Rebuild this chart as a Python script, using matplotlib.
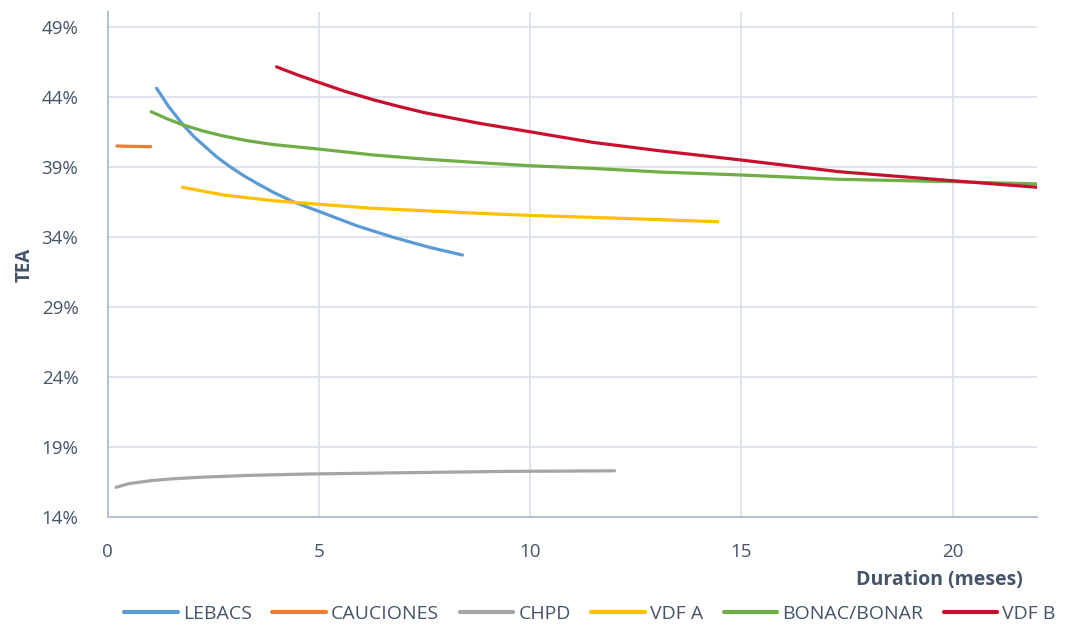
import matplotlib
matplotlib.use("Agg")
import matplotlib.pyplot as plt
from matplotlib.ticker import FuncFormatter, MultipleLocator

plt.rcParams['font.family'] = ['Open Sans', 'DejaVu Sans']

# duration (meses) and TEA (%)
lebacs_x = [1.16, 1.45, 1.79, 2.05, 2.35, 2.6, 2.90, 3.2, 3.53, 3.95, 4.39, 5.02, 5.89, 6.76, 7.62, 8.40]
lebacs_y = [44.62, 43.3, 42.0, 41.15, 40.34, 39.68, 39.02, 38.42, 37.84, 37.15, 36.52, 35.81, 34.81, 33.98, 33.26, 32.71]

cauciones_x = [0.22, 0.6, 1.02]
cauciones_y = [40.5, 40.47, 40.45]

chpd_x = [0.2, 0.5, 1.0, 1.5, 2.19, 3.3, 4.71, 6.92, 9.48, 11.41, 12.0]
chpd_y = [16.12, 16.38, 16.59, 16.72, 16.84, 16.97, 17.07, 17.16, 17.26, 17.29, 17.3]

vdfa_x = [1.77, 2.74, 3.92, 5.02, 6.28, 8.79, 10.0, 12.59, 14.44]
vdfa_y = [37.55, 37.0, 36.59, 36.33, 36.05, 35.69, 35.54, 35.29, 35.09]

bonac_x = [1.03, 1.4, 1.79, 2.25, 2.74, 3.3, 3.92, 5.0, 6.28, 7.47, 8.79, 9.99, 11.48, 13.06,
           14.99, 17.32, 20.0, 22.0]
bonac_y = [42.95, 42.45, 42.0, 41.58, 41.21, 40.88, 40.6, 40.28, 39.86, 39.57, 39.31, 39.09, 38.9, 38.64,
           38.43, 38.12, 37.95, 37.79]

vdfb_x = [4.0, 4.5, 5.0, 5.6, 6.3, 6.9, 7.5, 8.76, 9.99, 11.48, 13.06, 14.99, 17.32, 20.0, 22.0]
vdfb_y = [46.15, 45.57, 45.04, 44.42, 43.79, 43.32, 42.88, 42.14, 41.52, 40.76, 40.16, 39.5, 38.66, 38.02, 37.55]

series = [
    ('LEBACS', lebacs_x, lebacs_y, '#5B9BD5'),
    ('CAUCIONES', cauciones_x, cauciones_y, '#ED7D31'),
    ('CHPD', chpd_x, chpd_y, '#A5A5A5'),
    ('VDF A', vdfa_x, vdfa_y, '#FFC000'),
    ('BONAC/BONAR', bonac_x, bonac_y, '#70AD47'),
    ('VDF B', vdfb_x, vdfb_y, '#C8102E'),
]

txt = '#44546A'

fig = plt.figure(figsize=(10.67, 6.27), dpi=100)
ax = fig.add_axes([0.1008, 0.1754, 0.8711, 0.8055])

for nome, xs, ys, cor in series:
    ax.plot(xs, ys, color=cor, lw=2.3, label=nome, solid_capstyle='round',
            solid_joinstyle='round')

ax.set_xlim(0, 22)
ax.set_ylim(14, 50.07)
ax.xaxis.set_major_locator(MultipleLocator(5))
ax.set_yticks([14, 19, 24, 29, 34, 39, 44, 49])
ax.yaxis.set_major_formatter(FuncFormatter(lambda v, p: '%d%%' % round(v)))

ax.grid(True, color='#D9DEE7', lw=1.2)
ax.set_axisbelow(True)
for s in ['top', 'right']:
    ax.spines[s].set_visible(False)
for s in ['left', 'bottom']:
    ax.spines[s].set_color('#B4C0D3')
    ax.spines[s].set_linewidth(1.5)

ax.tick_params(length=0, labelsize=13.5, colors=txt)
ax.tick_params(axis='x', pad=19)
ax.tick_params(axis='y', pad=21)

ax.set_ylabel('TEA', fontsize=13.5, fontweight='bold', color=txt, labelpad=5)
fig.text(0.880, 0.075, 'Duration (meses)', fontsize=14, fontweight='bold',
         color=txt, ha='center', va='center')

leg = fig.legend(loc='center', bbox_to_anchor=(0.553, 0.021), ncol=6,
                 frameon=False, fontsize=14, handlelength=2.75, columnspacing=1.05,
                 handletextpad=0.27)
for t in leg.get_texts():
    t.set_color(txt)
for h in leg.get_lines():
    h.set_linewidth(3)

plt.savefig('out.png', dpi=100)
